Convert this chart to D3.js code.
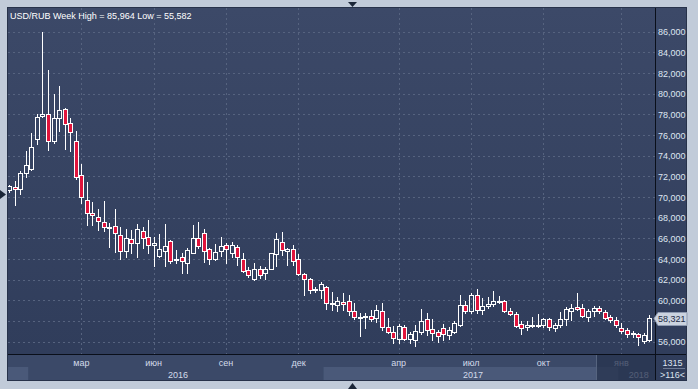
<!DOCTYPE html>
<html>
<head>
<meta charset="utf-8">
<script src="https://cdn.jsdelivr.net/npm/d3@7"></script>
<style>
html, body { margin: 0; padding: 0; background: #c1cbd9; }
svg { display: block; font-family: "Liberation Sans", Arial, sans-serif; }
</style>
</head>
<body>
<div id="chart"></div>
<script>
// weekly USD/RUB candles (rubles)
var opens = [70.68,71.00,70.78,72.33,72.71,75.62,77.84,78.00,75.45,77.65,78.49,77.16,75.42,72.13,69.71,68.48,68.04,67.63,67.12,67.20,
  66.28,64.81,65.91,65.58,66.71,66.10,65.33,64.32,64.81,65.77,63.97,64.17,63.64,64.61,66.01,66.49,64.94,63.97,64.81,65.39,
  64.61,65.19,64.03,62.94,62.10,63.06,62.62,63.06,64.49,65.62,64.75,64.94,63.97,62.55,62.04,61.09,61.00,61.26,59.72,59.58,
  59.84,59.91,58.97,58.36,58.49,58.49,58.26,58.97,57.45,56.97,56.29,57.45,56.29,56.16,56.91,58.17,57.23,56.91,57.30,56.65,
  56.97,57.64,59.55,58.94,60.49,59.07,59.45,59.65,59.94,59.94,59.00,58.65,57.68,57.39,57.64,57.62,57.64,58.17,57.30,57.59,
  58.23,59.00,59.33,59.26,58.42,58.97,59.23,58.87,58.42,58.10,57.33,57.13,56.79,56.74,56.07,56.16];
var highs = [71.20,71.58,72.55,74.45,76.20,78.03,85.964,82.29,79.97,80.75,78.62,77.68,76.39,73.20,71.45,69.55,68.84,69.62,67.52,68.84,
  67.13,66.91,66.81,67.39,67.07,67.78,66.10,66.42,67.39,65.84,64.87,64.55,65.04,67.26,67.55,66.88,65.10,65.43,66.13,65.52,
  65.65,65.33,64.61,63.20,63.59,63.33,63.20,64.61,66.49,66.59,65.04,65.36,64.49,62.68,62.19,61.26,61.81,61.39,60.81,60.35,
  60.74,60.52,59.72,58.75,58.75,59.07,59.55,59.72,58.26,57.52,57.71,57.62,56.97,57.62,59.14,58.75,58.17,57.13,57.71,57.45,
  58.03,60.52,59.97,60.74,61.07,60.20,60.35,60.91,60.42,60.04,59.23,58.90,58.00,58.00,58.42,58.68,58.26,58.26,57.78,58.90,
  59.39,59.65,60.74,59.65,59.16,59.45,59.45,59.07,58.58,58.36,57.78,57.30,57.06,56.87,56.87,58.58];
var lows = [70.50,69.23,70.30,71.94,72.60,75.13,77.78,74.55,75.26,76.39,74.65,74.48,71.74,69.45,67.29,67.29,66.81,66.70,65.19,64.71,
  64.00,64.23,64.61,64.17,65.04,64.55,63.33,64.23,63.33,63.64,63.59,62.68,62.68,64.55,65.04,63.74,63.52,63.91,64.32,63.64,
  64.17,63.42,62.77,62.29,61.97,62.13,62.04,63.03,63.33,64.39,63.42,63.42,62.45,60.52,60.74,60.78,60.20,59.14,59.07,59.00,
  59.07,58.58,58.17,56.55,57.30,58.03,57.93,57.13,56.81,55.90,55.84,56.16,55.84,55.582,56.74,56.65,56.16,56.00,56.16,56.23,
  56.81,57.52,58.75,58.75,58.75,58.68,59.23,59.45,59.72,58.90,58.58,57.39,56.74,57.13,57.39,57.45,57.45,57.13,57.06,57.45,
  57.62,58.10,59.07,58.36,58.03,58.49,58.75,58.17,57.93,57.45,56.81,56.43,56.48,55.65,55.90,56.10];
var closes = [71.07,70.75,72.33,73.10,74.84,77.74,78.03,75.45,77.65,78.42,77.04,76.32,71.94,70.03,68.43,68.23,67.71,67.13,67.14,66.55,
  64.81,66.01,65.52,66.88,66.01,65.36,65.52,64.94,65.26,63.84,63.98,63.78,64.87,66.01,65.29,64.81,63.97,64.65,65.23,64.94,
  65.36,64.17,62.87,62.45,63.00,62.43,63.00,64.55,65.91,64.84,64.94,63.84,62.55,62.07,61.00,61.10,61.58,59.72,59.73,59.97,
  59.65,59.00,58.36,58.37,58.50,58.23,59.07,57.45,56.97,56.33,57.49,56.23,56.74,57.01,58.03,57.13,56.87,56.58,56.74,57.13,
  57.78,59.52,59.00,60.49,59.04,59.43,59.65,59.97,59.95,59.00,58.65,57.55,57.35,57.59,57.65,57.63,58.17,57.39,57.62,58.17,
  59.14,59.26,59.14,58.52,58.97,59.23,58.97,58.29,58.10,57.64,57.01,56.74,56.80,56.41,56.62,58.321];

var yTicks = [56, 58, 60, 62, 64, 66, 68, 70, 72, 74, 76, 78, 80, 82, 84, 86];
var monthTickIdx = [13, 26, 39, 52, 70, 83, 96, 110];
var monthTickLabels = ['мар', 'июн', 'сен', 'дек', 'апр', 'июл', 'окт', 'янв'];
var yearStartIdx = [-1, 4, 57, 110];
var yearLabels = ['2015', '2016', '2017', '2018'];
var titleText = 'USD/RUB Week High = 85,964 Low = 55,582';
var footerTop = '1315';
var footerBottom = '>116<';
var shadeFromIdx = 105.4;

var dim = { width: 698, height: 389 };
var plot = { left: 8, top: 8, right: 655, bottom: 354 };
var frame = { right: 686, bottom: 380 };
var fontSize = '9px';

var data = opens.map(function (o, i) {
    return { i: i, o: o, h: highs[i], l: lows[i], c: closes[i] };
});

var svg = d3.select('#chart').append('svg')
    .attr('width', dim.width).attr('height', dim.height);

var defs = svg.append('defs');
var grad = defs.append('linearGradient').attr('id', 'bg')
    .attr('x1', 0).attr('y1', 0).attr('x2', 0).attr('y2', 1);
grad.append('stop').attr('offset', '0%').attr('stop-color', '#3c4968');
grad.append('stop').attr('offset', '100%').attr('stop-color', '#2f3c5a');
defs.append('clipPath').attr('id', 'plotClip').append('rect')
    .attr('x', plot.left).attr('y', plot.top)
    .attr('width', plot.right - plot.left).attr('height', plot.bottom - plot.top);

// outer light frame
svg.append('rect').attr('width', dim.width).attr('height', dim.height).attr('fill', '#c1cbd9');
svg.append('rect').attr('x', plot.left - 0.5).attr('y', plot.top - 0.5)
    .attr('width', frame.right - plot.left + 1).attr('height', frame.bottom - plot.top + 1)
    .attr('fill', 'url(#bg)').attr('stroke', '#27324a');

var x = d3.scaleBand().domain(d3.range(data.length)).range([6.2, 652]);
// centre of a (possibly fractional) candle index
var xc = function (i) {
    var k = Math.floor(i);
    return x(k) + (i - k) * x.step() + x.bandwidth() / 2;
};
var y = d3.scaleLinear().domain([54.81, 88.29]).range([plot.bottom, plot.top]);
var fmt = function (v) { return d3.format('.3f')(v).replace('.', ','); };
var xEdge = function (i) { return i < 0 ? plot.left : x(i); };

// grid
var grid = svg.append('g').attr('stroke', '#56637f').attr('stroke-dasharray', '2,3')
    .attr('shape-rendering', 'crispEdges');
grid.selectAll('line.h').data(yTicks).enter().append('line')
    .attr('x1', plot.left).attr('x2', plot.right)
    .attr('y1', function (d) { return Math.round(y(d)) + 0.5; })
    .attr('y2', function (d) { return Math.round(y(d)) + 0.5; });
grid.selectAll('line.v').data(monthTickIdx).enter().append('line')
    .attr('y1', plot.top).attr('y2', plot.bottom)
    .attr('x1', function (d) { return Math.round(xc(d)) + 0.5; })
    .attr('x2', function (d) { return Math.round(xc(d)) + 0.5; });

// candles
var candles = svg.append('g').attr('clip-path', 'url(#plotClip)')
    .attr('shape-rendering', 'crispEdges');
var cg = candles.selectAll('g').data(data).enter().append('g');
function cx(d) { return Math.round(xc(d.i)) + 0.5; }
function bodyTop(d) { return Math.round(y(Math.max(d.o, d.c))) + 0.5; }
function bodyBot(d) { return Math.max(Math.round(y(Math.min(d.o, d.c))) + 0.5, bodyTop(d) + 1); }
cg.append('line').attr('stroke', '#ffffff')
    .attr('x1', cx).attr('x2', cx)
    .attr('y1', function (d) { return Math.round(y(d.h)); })
    .attr('y2', bodyTop);
cg.append('line').attr('stroke', '#ffffff')
    .attr('x1', cx).attr('x2', cx)
    .attr('y1', bodyBot)
    .attr('y2', function (d) { return Math.round(y(d.l)) + 1; });
cg.append('rect')
    .attr('x', function (d) { return cx(d) - 2; })
    .attr('width', 4)
    .attr('y', bodyTop)
    .attr('height', function (d) { return bodyBot(d) - bodyTop(d); })
    .attr('fill', function (d) { return d.c < d.o ? '#e0143c' : 'none'; })
    .attr('stroke', '#ffffff');

// separators
svg.append('line').attr('x1', plot.left).attr('x2', frame.right)
    .attr('y1', plot.bottom + 0.5).attr('y2', plot.bottom + 0.5).attr('stroke', '#0a0f1a');
svg.append('line').attr('x1', plot.right + 0.5).attr('x2', plot.right + 0.5)
    .attr('y1', plot.top).attr('y2', frame.bottom).attr('stroke', '#0a0f1a');

// bottom band
var monthRow = { top: plot.bottom + 1, bottom: 367 };
svg.append('rect').attr('x', plot.left).attr('y', monthRow.top)
    .attr('width', plot.right - plot.left).attr('height', frame.bottom - monthRow.top)
    .attr('fill', '#3b4968');
var yearBands = yearLabels.map(function (lab, k) {
    var a = xEdge(yearStartIdx[k]);
    var b = k + 1 < yearLabels.length ? xEdge(yearStartIdx[k + 1]) : plot.right;
    return { label: lab, a: Math.max(a, plot.left), b: Math.min(b, plot.right), k: k };
});
svg.selectAll('rect.yb').data(yearBands).enter().append('rect')
    .attr('x', function (d) { return d.a; })
    .attr('y', monthRow.bottom)
    .attr('width', function (d) { return d.b - d.a; })
    .attr('height', frame.bottom - monthRow.bottom)
    .attr('fill', function (d) { return d.k % 2 === 0 ? '#4a5979' : '#3b4968'; });

svg.selectAll('text.m').data(monthTickIdx).enter().append('text')
    .attr('x', function (d) { return xc(d); })
    .attr('y', 366)
    .attr('text-anchor', 'middle')
    .attr('font-size', fontSize)
    .attr('fill', '#d3dbea')
    .text(function (d, k) { return monthTickLabels[k]; });
svg.selectAll('text.yr').data(yearBands.filter(function (d) { return d.b - d.a > 30; })).enter().append('text')
    .attr('x', function (d) { return (d.a + d.b) / 2 + 2; })
    .attr('y', 377.5)
    .attr('text-anchor', 'middle')
    .attr('font-size', fontSize)
    .attr('fill', '#d3dbea')
    .text(function (d) { return d.label; });

// dimmed range at the right end of the time band
var shadeX = Math.round(xc(shadeFromIdx));
svg.append('rect').attr('x', shadeX).attr('y', monthRow.top)
    .attr('width', plot.right - shadeX).attr('height', frame.bottom - monthRow.top)
    .attr('fill', '#27334e').attr('opacity', 0.75);
svg.append('line').attr('x1', shadeX + 0.5).attr('x2', shadeX + 0.5)
    .attr('y1', monthRow.top).attr('y2', frame.bottom)
    .attr('stroke', '#56647f');

// last price marker (hides the tick label behind it)
var last = data[data.length - 1];
var ly = Math.round(y(last.c)) + 0.5;

svg.selectAll('text.y').data(yTicks.filter(function (d) { return Math.abs(y(d) - ly) > 9; }))
    .enter().append('text')
    .attr('x', plot.right + 3)
    .attr('y', function (d) { return y(d) + 3.5; })
    .attr('font-size', fontSize)
    .attr('fill', '#dfe6f2')
    .text(fmt);

svg.append('path')
    .attr('d', 'M' + (plot.right - 1) + ',' + ly + 'L' + (plot.right + 3) + ',' + (ly - 6) +
        'H' + (frame.right + 1) + 'V' + (ly + 7) + 'H' + (plot.right + 3) + 'Z')
    .attr('fill', '#cbd3df').attr('stroke', '#8e9ab0');
svg.append('text').attr('x', plot.right + 3).attr('y', ly + 3.5)
    .attr('font-size', fontSize).attr('fill', '#1d2a45')
    .text(fmt(last.c));

// footer counters
svg.append('text').attr('x', (plot.right + frame.right) / 2 + 2).attr('y', 366)
    .attr('text-anchor', 'middle').attr('font-size', fontSize).attr('fill', '#dbe3ef').text(footerTop);
svg.append('line').attr('x1', plot.right + 8).attr('x2', frame.right - 1)
    .attr('y1', 368.5).attr('y2', 368.5).attr('stroke', '#6d7a94');
svg.append('text').attr('x', (plot.right + frame.right) / 2 + 2).attr('y', 377.5)
    .attr('text-anchor', 'middle').attr('font-size', fontSize).attr('fill', '#dbe3ef').text(footerBottom);

// title
svg.append('text').attr('x', 10).attr('y', 18.5)
    .attr('font-size', fontSize).attr('fill', '#ffffff').text(titleText);

// little scroll arrows on the frame
svg.append('path').attr('d', 'M348,2L357,2L352.5,7Z').attr('fill', '#1b2638');
svg.append('path').attr('d', 'M348,389L357,389L352.5,383Z').attr('fill', '#1b2638');
svg.append('path').attr('d', 'M0,190L6,194.5L0,199Z').attr('fill', '#1b2638');
</script>
</body>
</html>
